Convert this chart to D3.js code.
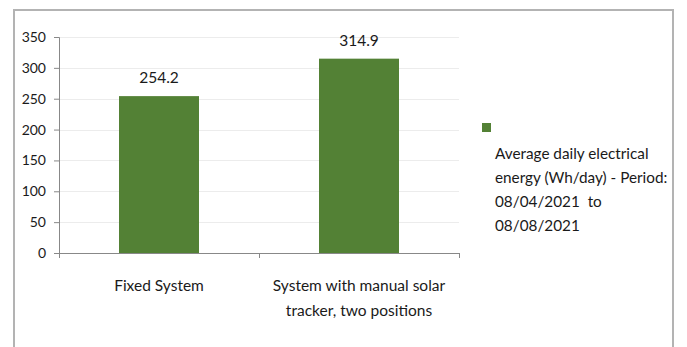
<!DOCTYPE html>
<html>
<head>
<meta charset="utf-8">
<script src="https://cdn.jsdelivr.net/npm/d3@7"></script>
<style>
  html, body { margin: 0; padding: 0; background: #fff; }
  svg { display: block; }
  text { font-family: Lato, "Noto Sans", sans-serif; fill: #1a1a1a; }
</style>
</head>
<body>
<svg id="chart" width="687" height="347"></svg>
<script>
// Chart data
const categories = [["Fixed System"], ["System with manual solar", "tracker, two positions"]];
const values = [254.2, 314.9];
const yTicks = [0, 50, 100, 150, 200, 250, 300, 350];
const legendLines = ["Average daily electrical", "energy (Wh/day) - Period:", "08/04/2021  to", "08/08/2021"];

const barColor = "#538135";
const svg = d3.select("#chart");

// outer frame (bottom edge runs off the canvas)
svg.append("path")
  .attr("d", "M14,347 L14,10 L673,10 L673,347")
  .attr("fill", "none")
  .attr("stroke", "#b3b3b3")
  .attr("stroke-width", 2);

const plot = { left: 59, right: 459, top: 37, bottom: 253 };

const x = d3.scaleBand()
  .domain(d3.range(categories.length))
  .range([plot.left, plot.right])
  .paddingInner(0.6)
  .paddingOuter(0.3);

const y = d3.scaleLinear().domain([0, 350]).range([plot.bottom, plot.top]);

// horizontal gridlines
svg.append("g")
  .selectAll("line")
  .data(yTicks.filter(t => t > 0))
  .join("line")
  .attr("x1", plot.left).attr("x2", plot.right)
  .attr("y1", d => Math.round(y(d)) + 0.5).attr("y2", d => Math.round(y(d)) + 0.5)
  .attr("stroke", "#ececec");

// bars
svg.append("g")
  .selectAll("rect")
  .data(values)
  .join("rect")
  .attr("x", (d, i) => x(i))
  .attr("width", x.bandwidth())
  .attr("y", d => y(d))
  .attr("height", d => y(0) - y(d))
  .attr("fill", barColor);

// value labels
svg.append("g")
  .selectAll("text")
  .data(values)
  .join("text")
  .attr("x", (d, i) => x(i) + x.bandwidth() / 2)
  .attr("y", d => y(d) - 13)
  .attr("text-anchor", "middle")
  .attr("font-size", 15.5)
  .text(d => d.toFixed(1));

// y axis
const yAxis = svg.append("g")
  .attr("transform", `translate(${plot.left},0)`)
  .call(d3.axisLeft(y).tickValues(yTicks).tickSize(5).tickPadding(8));
yAxis.select(".domain").attr("stroke", "#888");
yAxis.selectAll(".tick line").attr("stroke", "#888");
yAxis.selectAll(".tick text")
  .attr("font-size", 14)
  .attr("font-family", "Lato, sans-serif")
  .attr("fill", "#1a1a1a");

// x axis: baseline with boundary ticks between categories
const step = (plot.right - plot.left) / categories.length;
const xb = svg.append("g");
xb.append("line")
  .attr("x1", plot.left).attr("x2", plot.right)
  .attr("y1", plot.bottom + 0.5).attr("y2", plot.bottom + 0.5)
  .attr("stroke", "#888");
xb.selectAll("line.bt")
  .data(d3.range(categories.length + 1))
  .join("line")
  .attr("class", "bt")
  .attr("x1", i => plot.left + i * step + 0.5).attr("x2", i => plot.left + i * step + 0.5)
  .attr("y1", plot.bottom).attr("y2", plot.bottom + 5)
  .attr("stroke", "#888");

// category labels
xb.selectAll("text")
  .data(categories)
  .join("text")
  .attr("text-anchor", "middle")
  .attr("font-size", 15.5)
  .attr("transform", (d, i) => `translate(${x(i) + x.bandwidth() / 2},${290.5})`)
  .selectAll("tspan")
  .data(d => d)
  .join("tspan")
  .attr("x", 0)
  .attr("dy", (d, j) => j === 0 ? 0 : 25)
  .text(d => d);

// legend
const lg = svg.append("g");
lg.append("rect")
  .attr("x", 482).attr("y", 123).attr("width", 9).attr("height", 9)
  .attr("fill", barColor);
lg.append("text")
  .attr("font-size", 15.3)
  .attr("transform", "translate(495,158.5)")
  .selectAll("tspan")
  .data(legendLines)
  .join("tspan")
  .attr("x", 0)
  .attr("dy", (d, j) => j === 0 ? 0 : 24)
  .attr("xml:space", "preserve")
  .text(d => d);
</script>
</body>
</html>
